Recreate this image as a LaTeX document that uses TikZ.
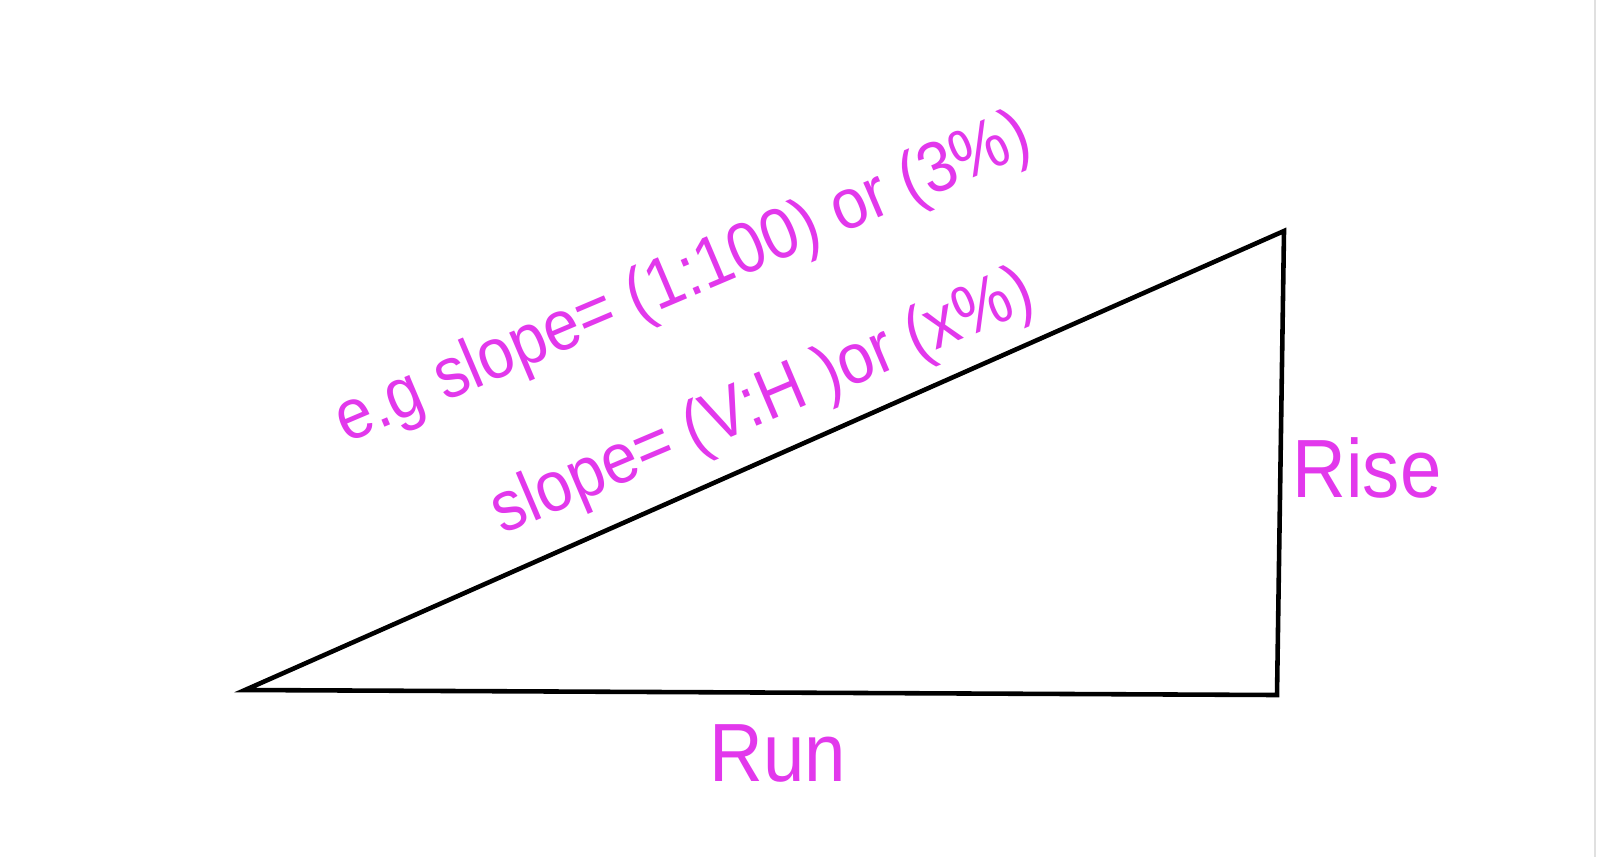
\documentclass[tikz,border=0pt]{standalone}
\usepackage{fontspec}
\usepackage{tikz}
\newfontfamily\labelfont[FakeStretch=0.9]{Liberation Sans}
\definecolor{slopepink}{RGB}{226,56,236}
\tikzset{
	sidelabel/.style={text=slopepink,inner sep=0pt,font=\labelfont\fontsize{23.5pt}{28pt}\selectfont},
	slopelabel/.style={text=slopepink,inner sep=0pt,rotate=23,anchor=base west,font=\labelfont\fontsize{20.3pt}{24pt}\selectfont}
}

\begin{document}
\begin{tikzpicture}[x=0.01cm,y=-0.01cm]
	\useasboundingbox[fill=white] (0,0) rectangle (1600,857);
	\draw[black!12,line width=0.6pt] (1595,0)--(1595,857);
	%
	\coordinate (left) at (245,690);
	\coordinate (top) at (1284,231);
	\coordinate (corner) at (1277,695);
	\draw[line width=1.3pt] (left)--(top)--(corner)--cycle;
	%
	\node[sidelabel,anchor=base west] (rise) at (1292,497) {Rise};
	\node[sidelabel,anchor=base] (run) at (778,781) {Run};
	%
	\node[slopelabel] (example) at (346,444) {e.g slope= (1:100) or (3\%)};
	\node[slopelabel] (general) at (502,535) {slope= (V:H )or (x\%)};
\end{tikzpicture}
\end{document}
